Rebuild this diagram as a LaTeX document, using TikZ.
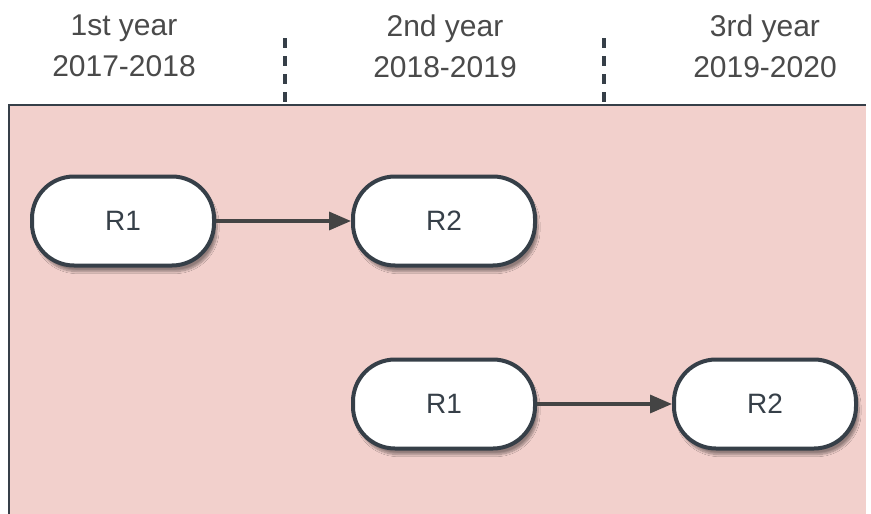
\documentclass[tikz,border=0pt]{standalone}
\usepackage{fontspec}
\setmainfont{Liberation Sans}
\usetikzlibrary{arrows.meta,shadows.blur}
\definecolor{lanebg}{HTML}{F2D0CC}
\definecolor{boxline}{HTML}{363F48}
\definecolor{arrowcol}{HTML}{444444}
\definecolor{headtext}{HTML}{4A4A4A}
\tikzset{
  stage/.style={draw=boxline, line width=4pt, fill=white, rounded corners=42pt,
    minimum width=182pt, minimum height=89pt, inner sep=0pt,
    font=\fontsize{28}{32}\selectfont, text=boxline,
    blur shadow={shadow xshift=3pt, shadow yshift=-6pt, shadow blur steps=10, shadow opacity=40}},
  flow/.style={draw=arrowcol, line width=3.4pt, -{Triangle[length=22pt,width=18pt]}},
  header/.style={align=center, text=headtext, font=\fontsize{30}{41}\selectfont},
  divider/.style={draw=boxline, line width=3.2pt, dash pattern=on 10pt off 8pt},
}
\begin{document}
\begin{tikzpicture}[x=1pt,y=-1pt]
  \useasboundingbox (0,0) rectangle (871,514);
  \fill[white] (0,0) rectangle (871,514);
  % swimlane background
  \fill[lanebg] (9,105) rectangle (866,514);
  \draw[boxline, line width=1.4pt] (9,514) -- (9,105) -- (866,105);
  % year dividers
  \draw[divider] (285,38) -- (285,105);
  \draw[divider] (604,38) -- (604,105);
  % year headers
  \node[header] (y1) at (124,46) {1st year\\2017-2018};
  \node[header] (y2) at (445,46) {2nd year\\2018-2019};
  \node[header] (y3) at (765,46) {3rd year\\2019-2020};
  % stages
  \node[stage] (a1) at (123,221) {R1};
  \node[stage] (a2) at (444,221) {R2};
  \node[stage] (b1) at (444,404) {R1};
  \node[stage] (b2) at (765,404) {R2};
  % transitions
  \draw[flow] (a1.east) -- (a2.west);
  \draw[flow] (b1.east) -- (b2.west);
\end{tikzpicture}
\end{document}
